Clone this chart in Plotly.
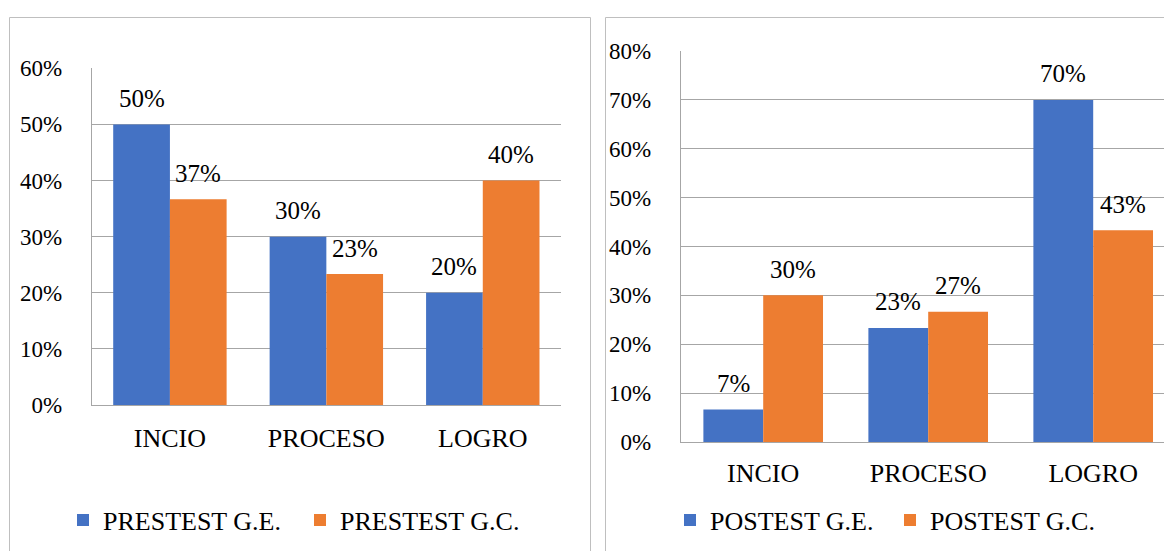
import plotly.graph_objects as go

# ---- data ----
categories = ["INCIO", "PROCESO", "LOGRO"]
pre_ge = [0.50, 0.30, 0.20]
pre_gc = [0.3667, 0.2333, 0.40]
post_ge = [0.0667, 0.2333, 0.70]
post_gc = [0.30, 0.2667, 0.4333]
pre_names = ["PRESTEST G.E.", "PRESTEST G.C."]
post_names = ["POSTEST G.E.", "POSTEST G.C."]

W, H = 1164, 551
BLUE, ORANGE = "#4472C4", "#ED7D31"
GRID = "#a6a6a6"
BORDER = "#bfbfbf"
FONT = "'Liberation Serif', 'Times New Roman', Times, serif"
TXT = "#000000"
BARGAP = 0.275

def px(x):
    return x / W

def py(y):
    return 1 - y / H

fig = go.Figure()

fig.add_trace(go.Bar(x=categories, y=pre_ge, name=pre_names[0], marker_color=BLUE,
                     xaxis="x", yaxis="y", legend="legend", hoverinfo="skip"))
fig.add_trace(go.Bar(x=categories, y=pre_gc, name=pre_names[1], marker_color=ORANGE,
                     xaxis="x", yaxis="y", legend="legend", hoverinfo="skip"))
fig.add_trace(go.Bar(x=categories, y=post_ge, name=post_names[0], marker_color=BLUE,
                     xaxis="x2", yaxis="y2", legend="legend2", hoverinfo="skip"))
fig.add_trace(go.Bar(x=categories, y=post_gc, name=post_names[1], marker_color=ORANGE,
                     xaxis="x2", yaxis="y2", legend="legend2", hoverinfo="skip"))

# plot-area geometry (pixels)
L_x0, L_x1, L_ytop, L_ybot = 91.7, 561.0, 68.3, 405.0
R_x0, R_ytop, R_ybot = 680.7, 51.0, 442.0
R_cat = 165.0
R_rmax = -0.5 + (W - R_x0) / R_cat

annotations = []
def add_labels(vals_a, vals_b, xa, ya, catpx):
    half = catpx * (1 - BARGAP) / 4
    for c, a, b in zip(categories, vals_a, vals_b):
        for v, sh in ((a, -half), (b, half)):
            annotations.append(dict(
                x=c, y=v, xref=xa, yref=ya, text=f"{round(v*100):d}%",
                showarrow=False, xshift=sh, yshift=26, yanchor="middle",
                font=dict(family=FONT, size=25, color=TXT)))

add_labels(pre_ge, pre_gc, "x", "y", (L_x1 - L_x0) / 3)
add_labels(post_ge, post_gc, "x2", "y2", R_cat)

axis_common = dict(showgrid=False, showline=True, linecolor=GRID, linewidth=1,
                   ticks="", tickfont=dict(family=FONT, size=26, color=TXT),
                   fixedrange=True, type="category", automargin=False)
yaxis_common = dict(showgrid=True, gridcolor=GRID, gridwidth=1, showline=True,
                    linecolor=GRID, linewidth=1, ticks="", tickformat=".0%",
                    tickfont=dict(family=FONT, size=23, color=TXT), zeroline=False,
                    fixedrange=True, automargin=False)

shapes = [
    dict(type="rect", xref="paper", yref="paper", x0=px(9.5), x1=px(590.5),
         y0=-0.2, y1=py(17.5), line=dict(color=BORDER, width=1), layer="below"),
    dict(type="rect", xref="paper", yref="paper", x0=px(605.5), x1=1.2,
         y0=-0.2, y1=py(17.5), line=dict(color=BORDER, width=1), layer="below"),
]

fig.update_layout(
    template="none",
    width=W, height=H,
    margin=dict(l=0, r=0, t=0, b=0, pad=0, autoexpand=False),
    font=dict(family=FONT, color=TXT),
    paper_bgcolor="white", plot_bgcolor="white",
    barmode="group", bargap=BARGAP, bargroupgap=0,
    xaxis=dict(domain=[px(L_x0), px(L_x1)], range=[-0.5, 2.5], anchor="y",
               ticklabelstandoff=10, **axis_common),
    yaxis=dict(domain=[py(L_ybot), py(L_ytop)], range=[0, 0.6], dtick=0.1, anchor="x",
               ticklabelstandoff=24, **yaxis_common),
    xaxis2=dict(domain=[px(R_x0), 1.0], range=[-0.5, R_rmax], anchor="y2",
                ticklabelstandoff=8, **axis_common),
    yaxis2=dict(domain=[py(R_ybot), py(R_ytop)], range=[0, 0.8], dtick=0.1, anchor="x2",
                ticklabelstandoff=24, **yaxis_common),
    legend=dict(orientation="h", x=px(63), xanchor="left", y=py(520), yanchor="middle",
                font=dict(family=FONT, size=26, color=TXT), bgcolor="rgba(0,0,0,0)",
                entrywidth=192, entrywidthmode="pixels", itemclick=False, itemdoubleclick=False),
    legend2=dict(orientation="h", x=px(670), xanchor="left", y=py(520), yanchor="middle",
                 font=dict(family=FONT, size=26, color=TXT), bgcolor="rgba(0,0,0,0)",
                 entrywidth=175, entrywidthmode="pixels", itemclick=False, itemdoubleclick=False),
    annotations=annotations,
    shapes=shapes,
    showlegend=True,
)

fig.write_html("out.html", config={"displayModeBar": False})
